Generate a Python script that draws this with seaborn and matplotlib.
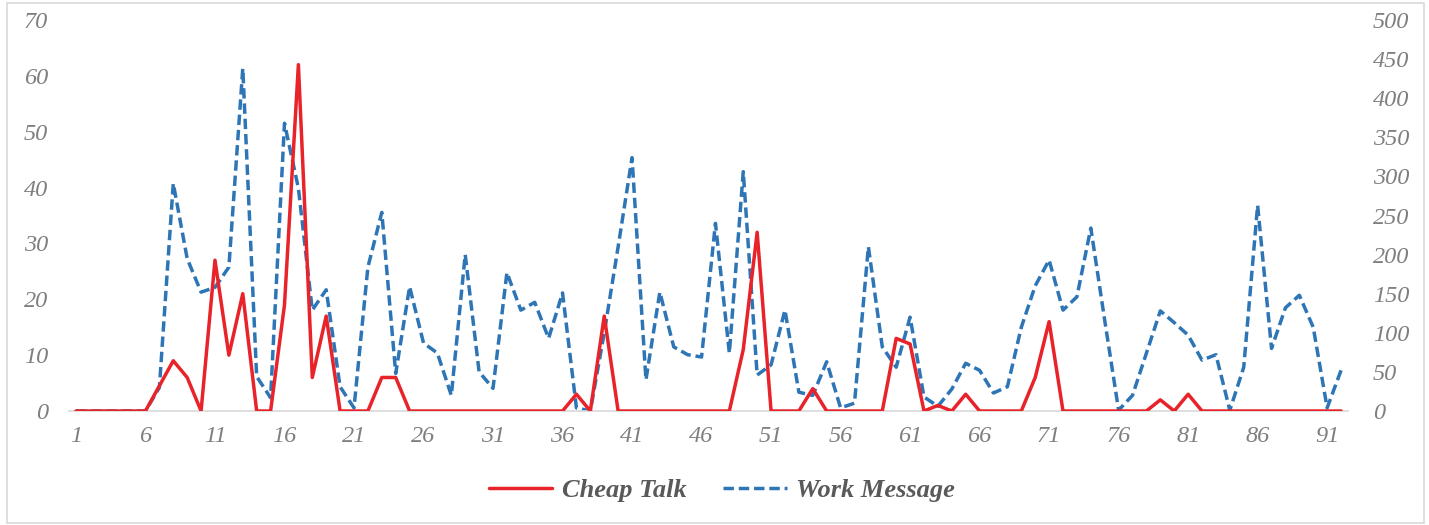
import numpy as np
import pandas as pd
import seaborn as sns
import matplotlib.pyplot as plt
from matplotlib.patches import Rectangle

# === Data ===
days = list(range(1, 93))
cheap_talk = [0, 0, 0, 0, 0, 0, 4.5, 9, 6, 0,
              27, 10, 21, 0, 0, 19, 62, 6, 17, 0,
              0, 0, 6, 6, 0, 0, 0, 0, 0, 0,
              0, 0, 0, 0, 0, 0, 3, 0, 17, 0,
              0, 0, 0, 0, 0, 0, 0, 0, 11, 32,
              0, 0, 0, 4, 0, 0, 0, 0, 0, 13,
              12, 0, 1, 0, 3, 0, 0, 0, 0, 6,
              16, 0, 0, 0, 0, 0, 0, 0, 2, 0,
              3, 0, 0, 0, 0, 0, 0, 0, 0, 0,
              0, 0]
work_message = [0, 0, 0, 0, 0, 0, 30, 291, 195, 152,
                158, 184, 438, 44, 17, 368, 285, 129, 155, 31,
                4, 184, 254, 48, 159, 87, 74, 20, 200, 50,
                29, 177, 129, 139, 93, 151, 4, 0, 100, 210,
                324, 40, 152, 82, 72, 69, 240, 74, 306, 46,
                59, 129, 24, 20, 63, 4, 10, 210, 82, 56,
                120, 18, 6, 28, 61, 52, 23, 31, 107, 160,
                193, 129, 146, 234, 116, 1, 20, 74, 128, 113,
                97, 65, 72, 1, 56, 263, 80, 132, 148, 107,
                4, 52]
assert len(cheap_talk) == len(days) == len(work_message)

left_ticks = list(range(0, 71, 10))
right_ticks = list(range(0, 501, 50))
x_ticks = list(range(1, 93, 5))

df = pd.DataFrame({"day": days, "Cheap Talk": cheap_talk, "Work Message": work_message})

# === Style ===
sns.set_style("white")
plt.rcParams["font.family"] = ["Liberation Serif", "DejaVu Serif"]
tick_color = "#7f7f7f"
red = "#e8232a"
blue = "#2e75b6"

fig = plt.figure(figsize=(14.29, 5.25), dpi=100)
ax = fig.add_axes([69 / 1429, 1 - 411 / 525, (1348 - 69) / 1429, (411 - 20) / 525])
ax2 = ax.twinx()

sns.lineplot(data=df, x="day", y="Cheap Talk", ax=ax, color=red, linewidth=2.5,
             label="Cheap Talk", legend=False, zorder=3)
sns.lineplot(data=df, x="day", y="Work Message", ax=ax2, color=blue, linewidth=2.5,
             linestyle=(0, (3, 1.4)), label="Work Message", legend=False, zorder=2)
ax.set_zorder(ax2.get_zorder() + 1)
ax.patch.set_visible(False)

ax.set_xlim(0.5, 92.5)
ax.set_ylim(0, 70)
ax2.set_ylim(0, 500)
ax.set_xticks(x_ticks)
ax.set_yticks(left_ticks)
ax2.set_yticks(right_ticks)
ax.set_xlabel("")
ax.set_ylabel("")
ax2.set_ylabel("")

for a in (ax, ax2):
    for s in a.spines.values():
        s.set_visible(False)
ax.spines["bottom"].set_visible(True)
ax.spines["bottom"].set_color("#d9d9d9")
ax.spines["bottom"].set_linewidth(1.2)

ax.tick_params(axis="x", length=0, pad=11, labelsize=17.5, labelcolor=tick_color)
ax.tick_params(axis="y", length=0, pad=15, labelsize=17.5, labelcolor=tick_color)
ax2.tick_params(axis="y", length=0, pad=18, labelsize=17.5, labelcolor=tick_color)
for lbl in ax.get_xticklabels() + ax.get_yticklabels() + ax2.get_yticklabels():
    lbl.set_fontstyle("italic")

# === Legend ===
handles = ax.get_lines()[:1] + ax2.get_lines()[:1]
fig.legend(handles, ["Cheap Talk", "Work Message"], loc="center",
           bbox_to_anchor=(722 / 1429, 1 - 490 / 525), ncol=2, frameon=False,
           handlelength=2.4, handletextpad=0.35, columnspacing=1.4,
           prop={"size": 19, "style": "italic", "weight": "bold"}, labelcolor="#595959")

# light border around the chart
fig.patches.append(Rectangle((7 / 1429, 2 / 525), (1424 - 7) / 1429, (522 - 2) / 525,
                             transform=fig.transFigure, fill=False,
                             edgecolor="#d9d9d9", linewidth=1.2))

fig.savefig("out.png", dpi=100)
